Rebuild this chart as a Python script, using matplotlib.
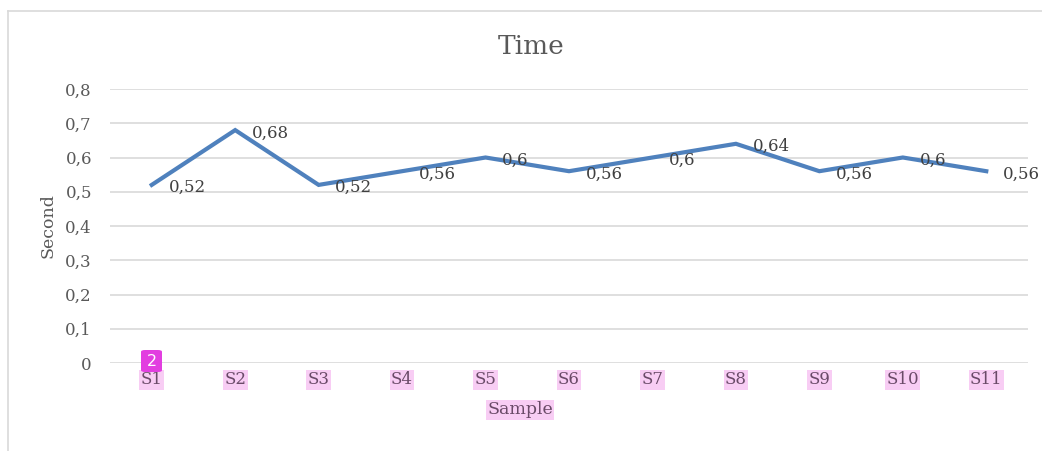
import matplotlib
matplotlib.use("Agg")
import matplotlib.pyplot as plt
from matplotlib.lines import Line2D
from matplotlib.patches import FancyBboxPatch

categories = ["S1", "S2", "S3", "S4", "S5", "S6", "S7", "S8", "S9", "S10", "S11"]
values = [0.52, 0.68, 0.52, 0.56, 0.6, 0.56, 0.6, 0.64, 0.56, 0.6, 0.56]
yticks = [0, 0.1, 0.2, 0.3, 0.4, 0.5, 0.6, 0.7, 0.8]
ytick_labels = ["0", "0,1", "0,2", "0,3", "0,4", "0,5", "0,6", "0,7", "0,8"]
value_labels = [f"{v:g}".replace(".", ",") for v in values]

plt.rcParams['font.family'] = ['DejaVu Serif']
W, H = 1042, 451
fig = plt.figure(figsize=(W / 100, H / 100), dpi=100)
fig.patch.set_facecolor("white")

ax = fig.add_axes([110 / W, 1 - 363 / H, (1028 - 110) / W, (363 - 89) / H])
x = list(range(len(categories)))
ax.plot(x, values, color="#4f81bd", lw=3.0, solid_joinstyle="miter", zorder=3)
ax.set_xlim(-0.5, len(categories) - 0.5)
ax.set_ylim(0, 0.8)
ax.set_yticks(yticks)
ax.set_yticklabels(ytick_labels)
ax.set_xticks(x)
ax.set_xticklabels(categories)
ax.grid(axis="y", color="#d9d9d9", lw=1.2)
ax.set_axisbelow(True)
for s in ax.spines.values():
    s.set_visible(False)
ax.tick_params(axis="both", length=0, colors="#595959", labelsize=12)
ax.tick_params(axis="y", pad=13)
ax.tick_params(axis="x", pad=6)
for lbl in ax.get_xticklabels():
    lbl.set_bbox(dict(facecolor="#f8cdf4", edgecolor="none", pad=1.0))
    lbl.set_color("#6a4a68")

for xi, v, t in zip(x, values, value_labels):
    ax.annotate(t, (xi, v), xytext=(12, -2), textcoords="offset points",
                ha="left", va="center", fontsize=12, color="#404040", zorder=4)

fig.text(531 / W, 1 - 46 / H, "Time", ha="center", va="center", fontsize=19, color="#595959")
fig.text(520 / W, 1 - 410 / H, "Sample", ha="center", va="center", fontsize=12.5,
         color="#6a4a68", bbox=dict(facecolor="#f8cdf4", edgecolor="none", pad=1.0))
fig.text(48 / W, 1 - 226 / H, "Second", ha="center", va="center", rotation=90,
         fontsize=12.5, color="#595959")

# badge
badge = FancyBboxPatch((141 / W, 1 - 372 / H), 21 / W, 22 / H,
                       boxstyle="round,pad=0,rounding_size=0.004",
                       transform=fig.transFigure, facecolor="#e23ee0", edgecolor="none", zorder=5)
fig.add_artist(badge)
fig.text(151.5 / W, 1 - 361 / H, "2", ha="center", va="center", fontsize=11.5,
         color="white", family="DejaVu Sans", zorder=6)

# outer border
fig.add_artist(Line2D([7.5 / W, 1], [1 - 10.5 / H, 1 - 10.5 / H], transform=fig.transFigure,
                      color="#d9d9d9", lw=1.2))
fig.add_artist(Line2D([7.5 / W, 7.5 / W], [0, 1 - 10.5 / H], transform=fig.transFigure,
                      color="#d9d9d9", lw=1.2))

fig.savefig("out.png", dpi=100)
